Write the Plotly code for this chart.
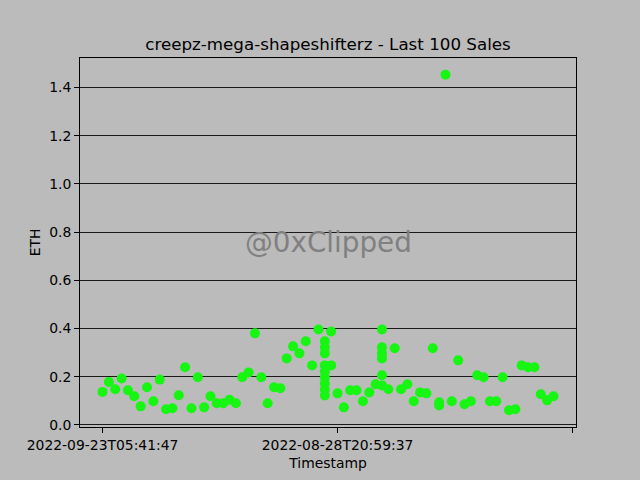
import pandas as pd
import plotly.graph_objects as go

title_text = "creepz-mega-shapeshifterz - Last 100 Sales"
watermark = "@0xClipped"

timestamps = [
    "2022-09-23T05:41:47", "2022-09-22T18:12:05", "2022-09-22T09:33:51", "2022-09-21T23:07:14",
    "2022-09-21T14:48:29", "2022-09-21T02:19:40", "2022-09-20T16:55:08", "2022-09-20T07:26:33",
    "2022-09-19T21:14:59", "2022-09-19T10:03:22", "2022-09-18T22:47:16", "2022-09-18T13:31:02",
    "2022-09-18T01:58:45", "2022-09-17T15:20:11", "2022-09-17T04:42:37", "2022-09-16T19:09:54",
    "2022-09-16T08:36:18", "2022-09-15T22:11:43", "2022-09-15T12:57:06", "2022-09-15T00:24:31",
    "2022-09-14T14:05:50", "2022-09-14T03:38:12", "2022-09-13T17:16:27", "2022-09-13T06:49:03",
    "2022-09-12T20:22:41", "2022-09-12T09:10:58", "2022-09-11T23:44:19", "2022-09-11T11:27:36",
    "2022-09-10T23:03:52", "2022-09-10T10:35:09", "2022-09-09T21:18:44", "2022-09-09T08:52:21",
    "2022-09-08T19:40:07", "2022-09-08T05:13:35", "2022-09-07T15:59:48",
    "2022-09-06T04:31:26", "2022-09-06T04:31:26", "2022-09-06T04:31:26", "2022-09-06T04:31:26",
    "2022-09-06T04:31:26", "2022-09-06T04:31:26", "2022-09-06T04:31:26", "2022-09-06T04:31:26",
    "2022-09-06T04:31:26",
    "2022-09-03T12:06:14", "2022-09-03T12:06:14",
    "2022-08-28T20:59:37", "2022-08-27T14:22:03", "2022-08-26T08:45:39", "2022-08-25T03:17:55",
    "2022-08-24T01:50:12", "2022-08-22T22:28:46", "2022-08-21T17:04:30",
    "2022-08-20T11:39:18", "2022-08-20T11:39:18", "2022-08-20T11:39:18", "2022-08-20T11:39:18",
    "2022-08-20T11:39:18", "2022-08-20T11:39:18",
    "2022-08-19T06:15:57", "2022-08-18T02:48:23", "2022-08-16T21:21:41", "2022-08-15T16:56:09",
    "2022-08-14T12:30:34", "2022-08-13T07:07:52", "2022-08-12T03:44:15", "2022-08-10T23:19:28",
    "2022-08-09T18:53:06", "2022-08-09T18:53:06",
    "2022-08-08T14:26:49", "2022-08-07T09:58:11", "2022-08-06T05:33:37", "2022-08-05T01:08:02",
    "2022-08-03T20:41:25", "2022-08-02T16:17:48", "2022-08-01T11:52:13", "2022-07-31T07:25:39",
    "2022-07-30T03:01:54", "2022-07-28T22:36:20", "2022-07-27T18:10:46", "2022-07-26T13:47:08",
    "2022-07-25T09:20:33", "2022-07-24T04:55:57", "2022-07-23T00:29:14", "2022-07-21T20:04:41",
    "2022-07-20T15:38:05", "2022-07-19T11:13:29",
]

prices = [
    0.137, 0.178, 0.148, 0.193,
    0.144, 0.119, 0.077, 0.156,
    0.098, 0.188, 0.065, 0.069,
    0.123, 0.239, 0.069, 0.198,
    0.073, 0.119, 0.090, 0.090,
    0.104, 0.090, 0.198, 0.218,
    0.380, 0.198, 0.090, 0.156,
    0.152, 0.276, 0.326, 0.297,
    0.347, 0.247, 0.396,
    0.347, 0.322, 0.297, 0.247,
    0.222, 0.197, 0.172, 0.147,
    0.122,
    0.388, 0.247,
    0.131, 0.073, 0.144, 0.144,
    0.098, 0.135, 0.169,
    0.396, 0.322, 0.297, 0.276,
    0.206, 0.164,
    0.148, 0.318, 0.148, 0.169,
    0.098, 0.135, 0.131, 0.318,
    0.094, 0.081,
    1.453, 0.098, 0.268, 0.086,
    0.098, 0.206, 0.198, 0.098,
    0.098, 0.198, 0.061, 0.065,
    0.247, 0.239, 0.239, 0.127,
    0.102, 0.119,
]

codes, uniques = pd.factorize(pd.Series(timestamps))
n_cat = len(uniques)
tick_step = 37
tick_pos = [0, tick_step, 2 * tick_step]
tick_txt = [uniques[i] if i < n_cat else "" for i in tick_pos]

xpad = 0.05 * (n_cat - 1)
ymin, ymax = min(prices), max(prices)
ypad = 0.05 * (ymax - ymin)

BG = "#bbbbbb"
FONT = "DejaVu Sans"

fig = go.Figure()
fig.add_trace(go.Scatter(
    x=codes, y=prices, mode="markers",
    marker=dict(color="rgb(22,246,18)", size=10, line=dict(width=0)),
    text=timestamps, hovertemplate="%{text}<br>%{y} ETH<extra></extra>",
))

fig.update_layout(
    width=640, height=480, autosize=False,
    paper_bgcolor=BG, plot_bgcolor=BG,
    margin=dict(l=80, r=64, t=58, b=53),
    showlegend=False,
    font=dict(family=FONT, color="#000000", size=13.9),
    title=dict(text=title_text, x=0.5, xref="paper", xanchor="center",
               y=1 - 44 / 480, yref="container", yanchor="middle",
               font=dict(size=16.7, family=FONT, color="#000000")),
    xaxis=dict(
        range=[-xpad, n_cat - 1 + xpad],
        tickmode="array", tickvals=tick_pos, ticktext=tick_txt,
        ticks="outside", ticklen=5, tickwidth=1, tickcolor="#000000",
        showgrid=False, zeroline=False,
        showline=True, linecolor="#000000", linewidth=1, mirror=True,
        title=dict(text="Timestamp", standoff=6, font=dict(size=13.9)),
        tickfont=dict(size=13.9),
    ),
    yaxis=dict(
        range=[ymin - ypad, ymax + ypad],
        tickmode="array", tickvals=[0, 0.2, 0.4, 0.6, 0.8, 1.0, 1.2, 1.4],
        tickformat=".1f",
        ticks="outside", ticklen=5, tickwidth=1, tickcolor="#000000",
        showgrid=True, gridcolor="#1a1a1a", gridwidth=1,
        zeroline=True, zerolinecolor="#1a1a1a", zerolinewidth=1,
        showline=True, linecolor="#000000", linewidth=1, mirror=True,
        title=dict(text="ETH", standoff=5, font=dict(size=13.9)),
        tickfont=dict(size=13.9),
    ),
    annotations=[dict(
        text=watermark, x=0.5, y=0.5, xref="paper", yref="paper",
        xanchor="center", yanchor="middle", showarrow=False,
        font=dict(size=27.8, family=FONT, color="#808080"),
    )],
)

fig.write_html(
    "out.html",
    config={"displayModeBar": False},
    post_script="document.body.style.margin='0';document.body.style.background='#bbbbbb';",
)
